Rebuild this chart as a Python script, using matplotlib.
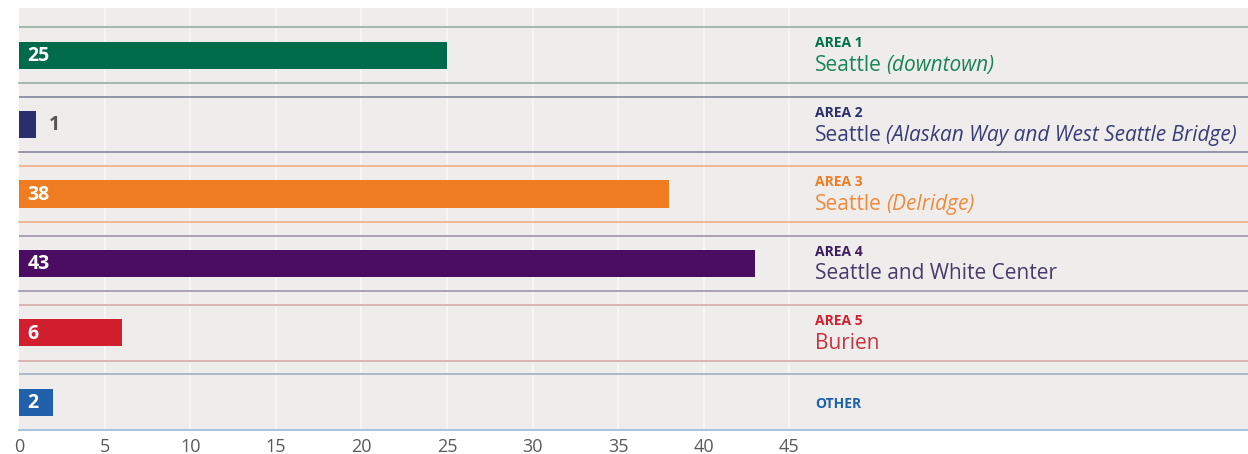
import matplotlib
matplotlib.use("Agg")
import matplotlib.pyplot as plt
from matplotlib.transforms import offset_copy

plt.rcParams['font.family'] = ['Open Sans', 'DejaVu Sans']

# data
areas = ["AREA 1", "AREA 2", "AREA 3", "AREA 4", "AREA 5", "OTHER"]
places = ["Seattle", "Seattle", "Seattle", "Seattle and White Center", "Burien", ""]
notes = ["(downtown)", "(Alaskan Way and West Seattle Bridge)", "(Delridge)", "", "", ""]
counts = [25, 1, 38, 43, 6, 2]
ticks = [0, 5, 10, 15, 20, 25, 30, 35, 40, 45]

# colours per row: bar, heading, place text, separator lines
bar_colors = ["#006b4a", "#2b2e6e", "#f07c22", "#4b0c63", "#d21f2f", "#2161ac"]
head_colors = ["#00704a", "#2b2e6e", "#f07c22", "#3e1d5e", "#d21f2f", "#2161ac"]
text_colors = ["#1a8456", "#3a3c78", "#f08a3c", "#4a3a6a", "#c8323e", "#2161ac"]
line_colors = ["#8fa89a", "#7c7c98", "#f3a77a", "#9a8aaa", "#d4a4a4", "#9aa8c0"]

fig = plt.figure(figsize=(12.48, 4.54), dpi=100)
ax = fig.add_axes([19 / 1248, 1 - 430 / 454, 1 - 19 / 1248, 422 / 454])
ax.set_facecolor("#efedec")

ax.set_xlim(0, 71.8)
ax.set_ylim(5.4, -0.68)

# faint vertical grid
for t in ticks[1:]:
    ax.axvline(t, color="#f7f6f6", lw=1.3, zorder=1)

ypos = list(range(len(counts)))
ax.barh(ypos, counts, height=0.39, color=bar_colors, zorder=3)

# separator lines above and below each row
for y, lc in zip(ypos, line_colors):
    ax.axhline(y - 0.4, color=lc, lw=1.1, zorder=2)
    ax.axhline(y + 0.4, color=lc, lw=1.1, zorder=2, clip_on=False)
ax.axhline(5.4, color="#a9c4e0", lw=1.4, zorder=4, clip_on=False)

# value labels
for y, v in zip(ypos, counts):
    if v >= 2:
        ax.text(0.5, y + 0.01, str(v), color="white", fontsize=14,
                fontweight="bold", va="center", ha="left", zorder=5)
    else:
        ax.text(v + 0.75, y + 0.01, str(v), color="#555555", fontsize=14,
                fontweight="bold", va="center", ha="left", zorder=5)

# row labels on the right
tx = 46.5
fig.canvas.draw()
renderer = fig.canvas.get_renderer()
for y, a, p, n, hc, tc in zip(ypos, areas, places, notes, head_colors, text_colors):
    if not p:
        ax.text(tx, y + 0.02, a, color=hc, fontsize=10, fontweight="bold",
                va="center", ha="left")
        continue
    ax.text(tx, y - 0.17, a, color=hc, fontsize=10, fontweight="bold",
            va="center", ha="left")
    t1 = ax.text(tx, y + 0.23, p, color=tc, fontsize=15,
                 va="baseline", ha="left")
    if n:
        w = t1.get_window_extent(renderer).width
        tr = offset_copy(ax.transData, fig=fig, x=w + 4, y=0, units="dots")
        ax.text(tx, y + 0.23, n, color=tc, fontsize=15, style="italic",
                va="baseline", ha="left", transform=tr)

ax.set_xticks(ticks)
ax.set_xticklabels([str(t) for t in ticks])
ax.set_yticks([])
ax.tick_params(axis="x", length=0, pad=6, labelsize=13, labelcolor="#5a5a5a")
for s in ax.spines.values():
    s.set_visible(False)

fig.savefig("out.png", dpi=100)
